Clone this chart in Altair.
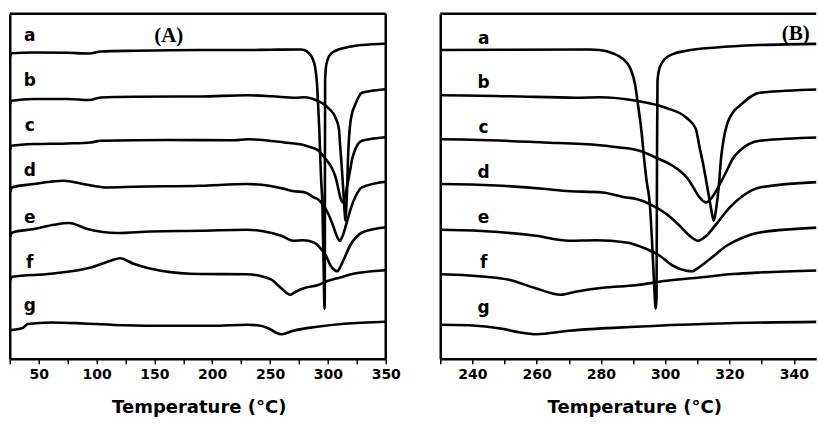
import altair as alt
import pandas as pd

# ---- data (Temperature in °C, heat flow in arbitrary units) ----
a_T = [25.2, 26.5, 46, 75, 93.6, 103.7, 132.5, 190, 230.4, 250, 276.5, 279.6, 283.8, 286.9, 289.0, 290.6, 291.5, 292.6,
       293.6, 294.2, 295.2, 296.0, 296.5, 297.05, 297.3, 297.45, 297.6, 298.3, 299.9, 302.4, 306.6, 315.9, 329.4, 350]
a_v = [302, 305.5, 306.3, 306, 305.3, 307.3, 308, 308.7, 308.7, 309, 309.3, 308.7, 305.3, 299.7, 291.3, 274.7, 254.7, 228,
       194.7, 178, 155, 111.3, 78, 50, 60, 200, 278, 291.3, 299.7, 304.7, 308, 311.3, 313.7, 315]

b_T = [25.2, 26.5, 46, 75, 93.6, 103.7, 132.5, 190, 230.4, 251.6, 272.4, 279.6, 291.0, 298.3, 300.4, 306.6, 309.5,
       310.7, 311.8, 313.3, 314.4, 315.1, 315.9, 316.7, 317.3, 318.1, 319.3, 321.0, 323.2, 329.4, 350]
b_v = [255, 258, 259.7, 259.7, 258.7, 261.3, 262, 262.3, 263.5, 262.5, 261, 261.5, 258, 253, 250.7, 241, 230,
       211.3, 194.7, 168, 148, 138, 151.3, 173, 198, 218, 235, 246, 253, 266, 269.5]

c_T = [25.2, 26.5, 46, 75, 95, 103.7, 161.3, 218.9, 230.4, 262, 279.6, 285.8, 292, 297, 301.4, 304.5, 307.1, 309,
       310.7, 312.8, 314.9, 317.0, 319.3, 321.0, 323.2, 329.4, 350]
c_v = [209, 213, 214.7, 215.3, 216.3, 218, 218.7, 218.5, 219.5, 216.3, 213.5, 211.3, 208, 201.3, 194.7, 188, 179.7, 170,
       161.3, 156.3, 163, 174.7, 189, 200, 208, 218, 221.5]

d_T = [25.2, 27.3, 46, 60, 72, 86.4, 97, 109.4, 132.5, 190, 230.1, 249.3, 262.8, 268, 280.5, 287.9, 290.8, 295.2,
       300.4, 304.5, 307.6, 310.2, 312.8, 315.9, 320.1, 324.2, 329.4, 350]
d_v = [167, 171.5, 174.7, 177, 178, 175.3, 173, 171.3, 172, 173, 174.7, 173, 169.7, 168, 166.3, 161.3, 160, 154.7,
       144.7, 133, 123, 118, 123, 134.7, 151.3, 163, 171.3, 177]

e_T = [25.2, 27.3, 46, 63.3, 76.3, 92.1, 118.1, 146.9, 190.1, 230.1, 244.1, 259.7, 270.1, 278.4, 287.9, 294.2, 298.3,
       302.4, 306.6, 308.5, 309.7, 313.9, 319.1, 324.2, 329.4, 350]
e_v = [122, 126.3, 129.7, 134, 135.7, 129.7, 125.7, 127.3, 128, 129, 127.5, 123, 118, 118.5, 116.3, 109.7, 103,
       93, 88, 87.5, 89.7, 99.7, 113, 121.3, 126.3, 131.5]

f_T = [25.2, 27.3, 60.4, 95, 112.3, 120.3, 132.5, 155.5, 190.1, 230.1, 244.1, 251.4, 259.7, 267.5, 272.1, 280.5,
       290.8, 300.4, 310.7, 321.1, 329.4, 350]
f_v = [78, 82, 85, 91.3, 98, 100.5, 94.7, 88, 84.7, 84.5, 82, 79, 70.5, 64, 67, 71,
       73.5, 78, 81.3, 84.7, 86.3, 88.5]

g_T = [25.2, 36, 38.5, 40.3, 60.4, 89.2, 123.8, 161.3, 200, 230.1, 239, 249.3, 254.5, 260, 270.1, 290.8, 313.9, 350]
g_v = [28.5, 30.7, 33, 34.7, 36.3, 35.3, 33.5, 33, 33, 34, 33.5, 30, 26.5, 24.5, 28, 32, 35, 37]

letters = ["a", "b", "c", "d", "e", "f", "g"]
label_T_A = 42.3
label_v_A = [323, 278, 233, 188, 141, 96, 53]
label_T_B = 243.5
label_v_B = [320, 276, 231, 186, 141, 96, 51]

panel_names = ["(A)", "(B)"]
panel_T = [162.4, 340.6]
panel_v = [323, 325]

# ---- build tables ----
curves = {"a": (a_T, a_v), "b": (b_T, b_v), "c": (c_T, c_v), "d": (d_T, d_v),
          "e": (e_T, e_v), "f": (f_T, f_v), "g": (g_T, g_v)}
rows = []
for name, (ts, vs) in curves.items():
    for t, v in zip(ts, vs):
        rows.append({"curve": name, "T": t, "v": v})
df = pd.DataFrame(rows)

labA = pd.DataFrame({"lab": letters, "T": [label_T_A] * 7, "v": label_v_A})
labB = pd.DataFrame({"lab": letters, "T": [label_T_B] * 7, "v": label_v_B})
titA = pd.DataFrame({"lab": [panel_names[0]], "T": [panel_T[0]], "v": [panel_v[0]]})
titB = pd.DataFrame({"lab": [panel_names[1]], "T": [panel_T[1]], "v": [panel_v[1]]})

H = 345
WA = 376
WB = 376

FONT = "DejaVu Sans"
yscale = alt.Scale(domain=[0, 345], nice=False, zero=False)
yaxis = alt.Axis(labels=False, ticks=False, title=None, grid=False, domain=True,
                 domainColor="black", domainWidth=2.5)


def xaxis(values, every, title_x):
    return alt.Axis(values=values, labelExpr=f"datum.value % {every} === 0 ? '' + datum.value : ''",
                    tickSize=5, tickWidth=1.5, tickColor="black",
                    domainColor="black", domainWidth=2.5, grid=False,
                    labelFont=FONT, labelFontWeight="bold", labelFontSize=14, labelColor="black",
                    labelPadding=4, labelOverlap=False, labelFlush=False,
                    title="Temperature (°C)", titleFont=FONT, titleFontWeight="bold",
                    titleFontSize=18, titleColor="black", titlePadding=17,
                    titleX=title_x, titleAlign="center")


def panel(domain, values, every, W, labs, tit, right_border, title_x):
    xs = alt.Scale(domain=domain, nice=False, zero=False)
    xax = xaxis(values, every, title_x)
    lines = alt.Chart(df).mark_line(color="black", strokeWidth=2.6, clip=True,
                                    interpolate="monotone").encode(
        x=alt.X("T:Q", scale=xs, axis=xax),
        y=alt.Y("v:Q", scale=yscale, axis=yaxis),
        detail="curve:N",
        order="T:Q",
    )
    letters_layer = alt.Chart(labs).mark_text(font=FONT, fontWeight="bold", fontSize=17,
                                              color="black", align="center", baseline="middle").encode(
        x=alt.X("T:Q", scale=xs, axis=xax), y=alt.Y("v:Q", scale=yscale, axis=yaxis), text="lab:N")
    title_layer = alt.Chart(tit).mark_text(font="Liberation Serif", fontWeight="bold", fontSize=21,
                                           color="black", align="center", baseline="middle").encode(
        x=alt.X("T:Q", scale=xs, axis=xax), y=alt.Y("v:Q", scale=yscale, axis=yaxis), text="lab:N")
    top = alt.Chart(alt.Data(values=[{}])).mark_rule(color="black", strokeWidth=2.5).encode(
        x=alt.value(0), x2=alt.value(W), y=alt.value(0))
    layers = [lines, letters_layer, title_layer, top]
    if right_border:
        right = alt.Chart(alt.Data(values=[{}])).mark_rule(color="black", strokeWidth=2.5).encode(
            x=alt.value(W), y=alt.value(0), y2=alt.value(H))
        layers.append(right)
    return alt.layer(*layers).properties(width=W, height=H)


chartA = panel([25, 350], list(range(25, 351, 25)), 50, WA, labA, titA, True, 189)
chartB = panel([230, 347.0], list(range(230, 341, 10)), 20, WB, labB, titB, False, 194)

chart = alt.hconcat(chartA, chartB, spacing=37.5).properties(
    padding={"left": 7.75, "top": 11.75, "right": 0, "bottom": 0},
    background="white",
).configure_view(stroke=None)

chart.save("out.html", embed_options={"renderer": "svg", "actions": False})
